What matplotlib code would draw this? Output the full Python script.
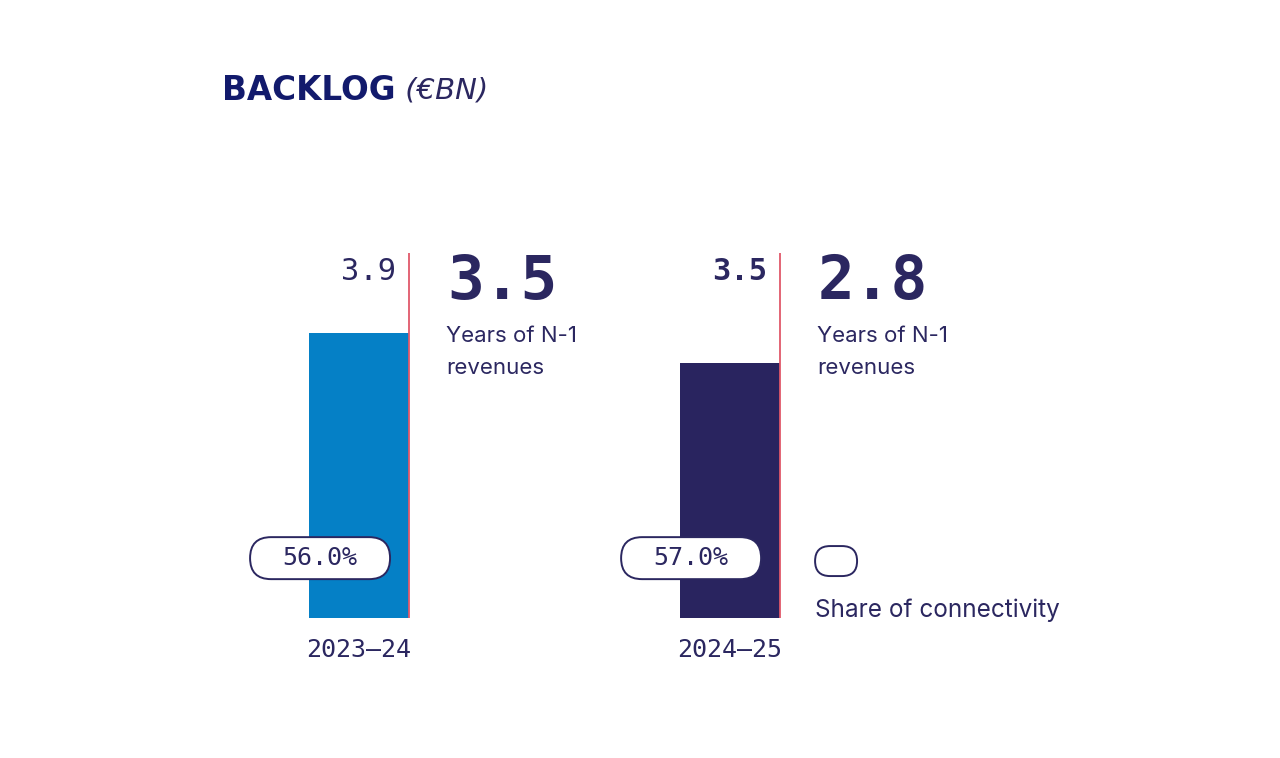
import matplotlib.pyplot as plt
from matplotlib.patches import FancyBboxPatch
from matplotlib.transforms import ScaledTranslation

# data
periods = ['2023\u201324', '2024\u201325']
backlog = [3.9, 3.5]
years_of_rev = [3.5, 2.8]
share_conn = [56.0, 57.0]

bar_colors = ['#0580c6', '#29245f']
navy = '#2b2760'
title_col = '#121a6c'
red = '#e0586a'
mono = 'DejaVu Sans Mono'
sans = 'Inter'

fig = plt.figure(figsize=(12.8, 7.58), dpi=100)
# axes: bottom of bars at y=618px, top of red rule (5.0) at y=253px
ax = fig.add_axes([200 / 1280, 140 / 758, 900 / 1280, 365 / 758])
ax.set_xlim(-0.4286, 1.997)
ax.set_ylim(0, 5)
ax.axis('off')

x = range(len(periods))
bw = 0.27
ax.bar(x, backlog, width=bw, color=bar_colors, zorder=2)
ax.vlines([i + bw / 2 for i in x], 0, 5, color=red, lw=1.3, zorder=3)


def pill(xd, yd, w, h):
    # w, h in pixels, anchored at a data point
    tr = fig.dpi_scale_trans + ScaledTranslation(xd, yd, ax.transData)
    p = FancyBboxPatch((-w / 200, -h / 200), w / 100, h / 100,
                       boxstyle='round,pad=0,rounding_size=%f' % (h / 200),
                       fc='white', ec=navy, lw=1.4, transform=tr, zorder=4,
                       clip_on=False)
    ax.add_patch(p)


for i in x:
    wt = 'normal' if i == 0 else 'bold'
    ax.text(i + 0.1, 4.75, f'{backlog[i]:.1f}', ha='right', va='center',
            fontsize=22, family=mono, color=navy, fontweight=wt)
    ax.text(i + 0.237, 4.6, f'{years_of_rev[i]:.1f}', ha='left', va='center',
            fontsize=44, family=mono, fontweight='bold', color=navy)
    ax.text(i + 0.235, 4.0, 'Years of N-1\nrevenues', ha='left', va='top',
            fontsize=16, family=sans, color=navy, linespacing=1.72)
    ax.text(i, -0.44, periods[i], ha='center', va='center', fontsize=18,
            family=mono, color=navy, clip_on=False)
    px = i - 0.105
    pill(px, 0.82, 140, 42)
    ax.text(px, 0.82, f'{share_conn[i]:.1f}%', ha='center', va='center',
            fontsize=18, family=mono, color=navy, zorder=5)

# legend
pill(1.2857, 0.78, 42, 30)
ax.text(1.229, 0.11, 'Share of connectivity', ha='left', va='center',
        fontsize=17.5, family=sans, color=navy)

t1 = fig.text(222 / 1280, 1 - 90 / 758, 'BACKLOG', ha='left', va='center',
              fontsize=23.5, family='DejaVu Sans', fontweight='bold',
              color=title_col)
ax.annotate(' (\u20acBN)', xy=(1, 0.5), xycoords=t1, ha='left', va='center',
            fontsize=21, family='DejaVu Sans', fontstyle='oblique',
            color=navy)

fig.savefig('out.png', dpi=100, facecolor='white')
